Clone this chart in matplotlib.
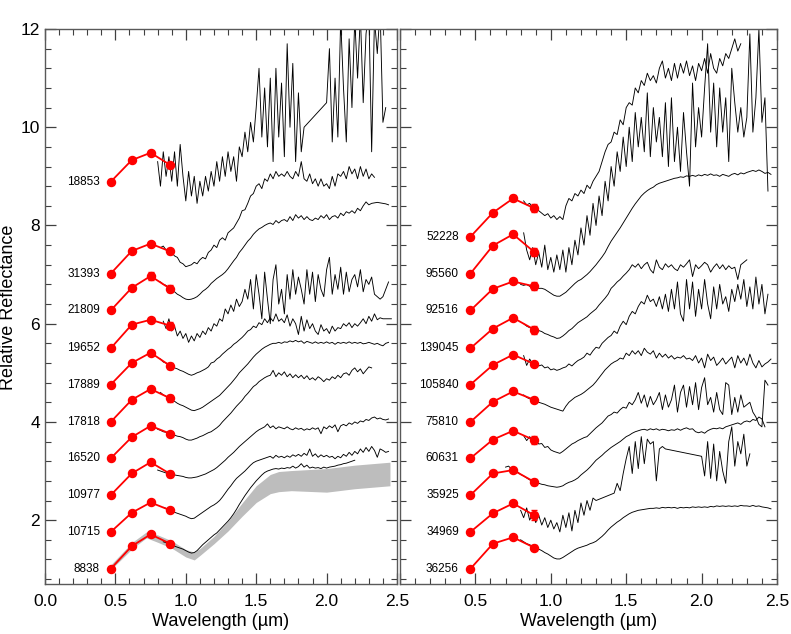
import numpy as np
import matplotlib
matplotlib.use('Agg')
import matplotlib.pyplot as plt
from matplotlib.ticker import MultipleLocator, FuncFormatter

plt.rcParams['font.family'] = ['Liberation Sans', 'DejaVu Sans']

# spectra are sampled every 0.02 um from their own start wavelength
STEP = 0.02
PHOT_WAVE = [0.467, 0.616, 0.75, 0.89]

# ---------------- left panel ----------------
LEFT_NAMES = ['18853', '31393', '21809', '19652', '17889',
              '17818', '16520', '10977', '10715', '8838']
LEFT_PHOT = [[8.89, 9.33, 9.48, 9.23],
             [7.02, 7.48, 7.63, 7.47],
             [6.27, 6.73, 6.97, 6.71],
             [5.50, 5.98, 6.08, 5.96],
             [4.76, 5.20, 5.41, 5.14],
             [4.00, 4.45, 4.67, 4.48],
             [3.26, 3.69, 3.92, 3.76],
             [2.51, 2.95, 3.18, 2.94],
             [1.76, 2.15, 2.36, 2.20],
             [1.01, 1.47, 1.71, 1.52]]
LEFT_ERR = [[0.02, 0.02, 0.03, 0.04],
            [0.02, 0.02, 0.03, 0.06],
            [0.02, 0.02, 0.08, 0.07],
            [0.02, 0.02, 0.03, 0.07],
            [0.02, 0.02, 0.04, 0.06],
            [0.02, 0.02, 0.03, 0.07],
            [0.02, 0.02, 0.03, 0.04],
            [0.02, 0.02, 0.03, 0.06],
            [0.02, 0.02, 0.03, 0.04],
            [0.02, 0.02, 0.03, 0.06]]
LEFT_START = [0.80, 0.82, 0.82, 0.84, 0.82, 0.82, 0.80, 0.80, 0.84, 0.84]

SPEC_18853 = ([9.3, 8.8, 9.5, 9.0, 9.4, 8.9, 9.5, 8.8, 9.65, 9.0,
               8.5, 9.1, 8.6, 9.0, 8.45, 8.9, 8.6, 9.0, 8.7, 9.1,
               8.8, 9.3, 8.9, 9.4, 9.0, 9.5, 9.1, 9.4, 8.9, 9.6,
               9.4, 9.9, 9.5, 10.1, 9.7, 10.4, 11.2, 9.8, 10.8, 9.6,
               11.0, 9.3, 11.2, 9.8, 10.9, 9.4, 11.7, 10.0, 11.3, 9.3,
               10.7, 9.5, 10.0] + [None] * 7 +
              [10.5, 11.6, 9.7, 11.0, 9.8, 12.2, 10.8, 9.7, 11.8, 10.4,
               12.2, 11.0, 12.3, 10.5, 11.9, 12.4, 9.5, 12.2, 11.5, 12.4,
               10.1, 10.4])
SPEC_31393 = [7.55, 7.58, 7.5, 7.52, 7.45, 7.38, 7.35, 7.25, 7.22,
              7.16, 7.18, 7.2, 7.25, 7.22, 7.3, 7.35, 7.32, 7.45, 7.5,
              7.6, 7.55, 7.7, 7.75, 7.7, 7.85, 7.9, 7.95, 8.05, 8.15,
              8.3, 8.32, 8.45, 8.6, 8.65, 8.8, 8.85, 8.75, 8.95, 8.9,
              9.05, 8.95, 9.1, 9.0, 9.05, 9.0, 9.1, 9.0, 8.95, 9.1,
              9.0, 9.3, 8.95, 8.9, 9.05, 8.85, 8.95, 8.8, 8.95, 8.8,
              8.85, 8.75, 9.0, 8.8, 9.05, 9.0, 9.1, 8.95, 9.2, 9.05,
              9.15, 8.95, 9.2, 9.0, 9.15, 8.95, 9.05, 8.98]
SPEC_21809 = [6.85, 6.8, 6.78, 6.72, 6.68, 6.65, 6.6, 6.57, 6.53,
              6.5, 6.49, 6.5, 6.52, 6.55, 6.6, 6.66, 6.7, 6.75, 6.82,
              6.87, 6.92, 6.96, 7.0, 7.05, 7.12, 7.2, 7.28, 7.35, 7.45,
              7.52, 7.6, 7.68, 7.74, 7.82, 7.88, 7.93, 7.96, 8.0, 8.03,
              8.05, 8.02, 8.1, 8.05, 8.1, 8.12, 8.08, 8.18, 8.1, 8.22,
              8.15, 8.2, 8.12, 8.18, 8.12, 8.1, 8.15, 8.12, 8.2, 8.15,
              8.22, 8.12, 8.18, 8.2, 8.15, 8.25, 8.2, 8.28, 8.25, 8.3,
              8.25, 8.35, 8.3, 8.4, 8.48, 8.42, 8.45, 8.46, 8.47, 8.46,
              8.45, 8.44, 8.42]
SPEC_19652 = [6.05, 5.9, 6.1, 5.85, 5.95, 5.75, 5.85, 5.7,
              5.8, 5.62, 5.75, 5.65, 5.8, 5.72, 5.85, 5.78, 5.92, 5.85,
              6.0, 5.95, 6.1, 6.05, 6.3, 6.2, 6.38, 6.25, 6.5, 6.35,
              6.45, 6.7, 6.5, 6.9, 6.3, 7.0, 6.6, 6.1, 7.05, 6.5,
              6.0, 6.9, 7.2, 6.4, 6.7, 6.2, 7.0, 6.5, 7.1, 6.6,
              6.95, 6.7, 6.4, 7.1, 6.6, 7.05, 6.45, 7.0, 6.7, 6.55,
              7.1, 7.35, 6.6, 7.0, 6.7, 7.15, 6.6, 7.05, 6.65, 6.9,
              7.0, 6.75, 7.1, 6.65, 6.9, 6.8, 6.95, 6.6, 6.55, 6.5,
              6.55, 6.7, 6.85]
SPEC_17889 = [5.28, 5.22, 5.2, 5.15, 5.12, 5.1, 5.08, 5.05, 5.03,
              5.0, 4.97, 4.95, 4.97, 5.0, 5.02, 5.05, 5.08, 5.12, 5.2,
              5.22, 5.28, 5.32, 5.38, 5.43, 5.48, 5.52, 5.58, 5.62, 5.67,
              5.72, 5.78, 5.85, 5.88, 5.95, 5.92, 6.02, 5.98, 6.1, 6.02,
              6.12, 6.05, 6.2, 6.05, 6.1, 6.02, 6.18, 5.95, 6.1, 6.0,
              5.78, 6.15, 5.85, 6.08, 5.9, 6.0, 5.85, 5.78, 5.98, 5.85,
              5.9, 5.8, 5.95, 5.85, 5.92, 5.9, 6.0, 5.95, 6.02, 5.92,
              6.0, 5.95, 6.02, 6.1, 6.0, 6.15, 6.05, 6.2, 6.08, 6.12,
              6.1, 6.1, 6.1, 6.1]
SPEC_17818 = [4.6, 4.55, 4.52, 4.48, 4.45, 4.42, 4.38, 4.35, 4.33,
              4.3, 4.27, 4.24, 4.23, 4.25, 4.27, 4.3, 4.34, 4.38, 4.42,
              4.46, 4.5, 4.54, 4.6, 4.66, 4.72, 4.78, 4.85, 4.92, 5.0,
              5.06, 5.12, 5.18, 5.25, 5.32, 5.38, 5.43, 5.48, 5.52, 5.55,
              5.58, 5.6, 5.6, 5.62, 5.6, 5.63, 5.62, 5.65, 5.63, 5.66,
              5.63, 5.65, 5.6, 5.64, 5.62, 5.6, 5.63, 5.6, 5.62, 5.6,
              5.63, 5.6, 5.62, 5.58, 5.62, 5.6, 5.62, 5.6, 5.63, 5.6,
              5.62, 5.6, 5.62, 5.59, 5.6, 5.62, 5.6, 5.58, 5.6, 5.57,
              5.55, 5.6, 5.62]
SPEC_16520 = [3.85, 3.83, 3.8, 3.79, 3.77, 3.75, 3.73, 3.71, 3.7, 3.68,
              3.65, 3.63, 3.63, 3.65, 3.67, 3.7, 3.72, 3.75, 3.78, 3.8,
              3.84, 3.88, 3.93, 4.0, 4.06, 4.12, 4.18, 4.25, 4.32, 4.38,
              4.44, 4.52, 4.58, 4.65, 4.72, 4.76, 4.82, 4.86, 4.9, 4.93,
              4.95, 5.05, 4.92, 5.0, 4.95, 5.02, 4.92, 4.98, 4.9, 4.96,
              4.9, 4.95, 4.88, 4.94, 4.86, 4.9, 4.85, 4.92, 4.88, 4.82,
              4.88, 4.85, 4.92, 4.88, 4.95, 4.9, 4.98, 5.0, 4.95, 5.05,
              5.1, 5.02, 5.08, 4.98, 5.05, 5.12, 5.1]
SPEC_10977 = [3.02, 3.0, 2.98, 2.96, 2.95, 2.93, 2.92, 2.91, 2.9, 2.89,
              2.87, 2.86, 2.86, 2.87, 2.88, 2.9, 2.92, 2.94, 2.97, 3.0,
              3.03, 3.07, 3.12, 3.17, 3.22, 3.28, 3.33, 3.38, 3.44, 3.5,
              3.55, 3.6, 3.65, 3.7, 3.75, 3.8, 3.84, 3.87, 3.9, 3.96,
              3.88, 3.92, 3.86, 3.9, 3.88, 3.86, 3.9, 3.86, 3.84, 3.88,
              3.85, 3.87, 3.83, 3.86, 3.84, 3.88, 3.85, 3.88, 3.76, 3.9,
              3.86, 3.92, 3.88, 3.94, 3.8, 3.92, 3.95, 3.92, 3.98, 3.95,
              4.0, 3.97, 4.02, 4.0, 4.05, 4.03, 4.08, 4.1, 4.06, 4.08,
              4.05, 4.04, 4.06]
SPEC_10715 = [2.26, 2.24, 2.2, 2.18, 2.16, 2.14, 2.12, 2.1,
              2.08, 2.05, 2.03, 2.04, 2.08, 2.12, 2.16, 2.2, 2.24, 2.28,
              2.31, 2.35, 2.4, 2.47, 2.55, 2.63, 2.7, 2.78, 2.85, 2.9,
              2.95, 3.0, 3.06, 3.12, 3.17, 3.2, 3.22, 3.24, 3.26, 3.28,
              3.3, 3.26, 3.32, 3.28, 3.3, 3.27, 3.31, 3.28, 3.33, 3.3,
              3.34, 3.3, 3.36, 3.32, 3.45, 3.3, 3.35, 3.28, 3.33, 3.29,
              3.32, 3.28, 3.3, 3.25, 3.3, 3.27, 3.34, 3.3, 3.38, 3.32,
              3.4, 3.35, 3.45, 3.38, 3.48, 3.4, 3.5, 3.42, 3.28, 3.45,
              3.42, 3.38, 3.4]
SPEC_8838 = [1.56, 1.54, 1.52, 1.5, 1.47, 1.45, 1.43, 1.41,
             1.38, 1.35, 1.33, 1.34, 1.38, 1.44, 1.5, 1.55, 1.6, 1.65,
             1.7, 1.74, 1.8, 1.86, 1.92, 1.98, 2.05, 2.13, 2.22, 2.32,
             2.41, 2.5, 2.58, 2.66, 2.73, 2.8, 2.86, 2.92, 2.97, 3.0,
             3.02, 3.04, 3.05, 3.04, 3.06, 3.05, 3.07, 3.06, 3.1, 3.06,
             3.09, 3.15, 3.08, 3.12, 3.06, 3.08, 3.06, 3.07, 3.05, 3.08,
             3.06, 3.08, 3.09, 3.1, 3.12, 3.13, 3.15, 3.16, 3.18, 3.2,
             3.22]
LEFT_SPEC = [SPEC_18853, SPEC_31393, SPEC_21809, SPEC_19652, SPEC_17889,
             SPEC_17818, SPEC_16520, SPEC_10977, SPEC_10715, SPEC_8838]

# grey range behind 8838
BAND_WAVE = [0.47, 0.62, 0.72, 0.80, 0.90, 1.00, 1.06, 1.10, 1.20, 1.30,
             1.40, 1.50, 1.60, 1.66, 1.75, 2.00, 2.20, 2.45]
BAND_LO = [1.00, 1.42, 1.64, 1.55, 1.43, 1.25, 1.19, 1.28, 1.52, 1.78,
           2.08, 2.36, 2.54, 2.58, 2.60, 2.57, 2.64, 2.70]
BAND_HI = [1.10, 1.55, 1.76, 1.70, 1.58, 1.40, 1.35, 1.42, 1.67, 1.98,
           2.35, 2.70, 2.93, 2.99, 3.01, 3.05, 3.12, 3.18]

# ---------------- right panel ----------------
RIGHT_NAMES = ['52228', '95560', '92516', '139045', '105840',
               '75810', '60631', '35925', '34969', '36256']
RIGHT_PHOT = [[7.77, 8.26, 8.55, 8.35],
              [7.02, 7.59, 7.82, 7.46],
              [6.27, 6.71, 6.86, 6.76],
              [5.50, 5.90, 6.12, 5.88],
              [4.76, 5.16, 5.37, 5.18],
              [4.00, 4.41, 4.62, 4.45],
              [3.26, 3.64, 3.82, 3.63],
              [2.51, 2.95, 3.02, 2.78],
              [1.76, 2.14, 2.34, 2.10],
              [1.01, 1.52, 1.65, 1.44]]
RIGHT_ERR = [[0.02, 0.02, 0.06, 0.08],
             [0.02, 0.02, 0.06, 0.08],
             [0.02, 0.02, 0.03, 0.08],
             [0.02, 0.02, 0.03, 0.08],
             [0.02, 0.02, 0.03, 0.05],
             [0.02, 0.02, 0.03, 0.05],
             [0.02, 0.02, 0.03, 0.08],
             [0.02, 0.02, 0.03, 0.06],
             [0.02, 0.02, 0.03, 0.10],
             [0.02, 0.02, 0.03, 0.05]]
RIGHT_START = [0.82, 0.82, 0.80, 0.82, 0.82, 0.82, 0.82, 0.70, 0.80, 0.80]

SPEC_52228 = [8.5, 8.42, 8.45, 8.35, 8.38, 8.3, 8.25, 8.2, 8.24,
              8.15, 8.2, 8.12, 8.18, 8.12, 8.4, 8.55, 8.5, 8.65, 8.6,
              8.72, 8.65, 8.82, 8.75, 8.9, 9.0, 9.1, 9.3, 9.5, 9.65,
              9.7, 9.9, 9.85, 10.15, 10.05, 10.4, 10.5, 10.45, 10.8, 10.7,
              10.95, 10.85, 11.1, 10.95, 11.05, 10.9, 11.2, 11.35, 11.0, 11.2,
              10.95, 11.3, 11.0, 11.3, 11.1, 11.35, 11.05, 11.25, 10.95, 11.3,
              11.15, 11.4, 11.1, 11.5, 11.2, 11.1, 11.4, 11.25, 11.5, 11.4,
              11.6, 11.8, 11.55, 11.7]
SPEC_95560 = [7.85, 7.5, 7.3, 7.55, 7.2, 7.45, 7.15, 7.6, 7.1,
              7.35, 7.05, 7.4, 7.1, 7.5, 7.05, 7.55, 7.2, 7.7, 7.4,
              7.95, 7.6, 8.2, 7.8, 8.45, 8.0, 8.6, 8.2, 8.9, 8.5,
              9.2, 8.8, 9.5, 9.1, 9.8, 9.2, 10.0, 9.3, 10.3, 9.6,
              10.2, 9.5, 10.7, 9.4, 10.4, 9.7, 10.2, 9.4, 10.5, 9.2,
              10.6, 9.3, 10.0, 9.1, 10.3, 9.5, 8.8, 10.9, 9.6, 10.4,
              9.8, 10.8, 11.7, 9.9, 10.9, 9.6, 10.8, 9.9, 10.6, 9.3,
              11.2, 10.5, 9.9, 10.4, 9.8, 10.2, 11.9, 9.9, 10.6, 12.0,
              10.1, 10.6, 8.7]
SPEC_92516 = [6.8, 6.78, 6.8, 6.76, 6.76, 6.74, 6.72, 6.72, 6.7, 6.66,
              6.62, 6.58, 6.56, 6.56, 6.6, 6.64, 6.7, 6.76, 6.82, 6.87,
              6.9, 6.95, 7.0, 7.06, 7.13, 7.2, 7.28, 7.36, 7.45, 7.57,
              7.68, 7.77, 7.86, 7.95, 8.05, 8.15, 8.25, 8.35, 8.44, 8.52,
              8.6, 8.66, 8.71, 8.75, 8.78, 8.83, 8.86, 8.88, 8.9, 8.92,
              8.94, 8.96, 8.97, 8.99, 8.98, 9.01, 9.0, 9.02, 9.0, 9.03,
              9.01, 9.04, 9.02, 9.05, 9.02, 9.03, 9.0, 9.04, 9.02, 9.0,
              9.04, 9.06, 9.03, 9.07, 9.05, 9.08, 9.1, 9.12, 9.1, 9.13,
              9.1, 9.06, 9.08, 9.04]
SPEC_139045 = [6.0, 5.95, 5.92, 5.9, 5.88, 5.86, 5.84, 5.8, 5.78,
               5.75, 5.73, 5.7, 5.71, 5.75, 5.8, 5.86, 5.9, 5.96, 6.02,
               6.06, 6.1, 6.14, 6.2, 6.25, 6.3, 6.38, 6.45, 6.52, 6.6,
               6.72, 6.78, 6.85, 6.9, 6.97, 7.03, 7.1, 7.2, 7.15, 7.22,
               7.12, 7.2, 7.25, 7.1, 7.03, 7.3, 7.15, 7.1, 7.22, 7.15,
               7.2, 7.12, 7.08, 7.2, 7.15, 7.22, 7.3, 6.96, 7.2, 7.12,
               7.18, 7.25, 7.2, 7.05, 7.15, 7.22, 7.12, 7.2, 7.1, 7.18,
               7.12, 7.15, 6.9, 7.2, 7.25, 7.3]
SPEC_105840 = [5.35, 5.15, 5.28, 5.18, 5.2, 5.14, 5.16, 5.1, 5.12,
               5.06, 5.08, 5.05, 5.07, 5.1, 5.12, 5.18, 5.14, 5.2, 5.25,
               5.28, 5.32, 5.4, 5.36, 5.45, 5.52, 5.5, 5.6, 5.66, 5.72,
               5.76, 5.85, 5.8, 5.95, 6.05, 5.98, 6.15, 6.25, 6.2, 6.35,
               6.45, 6.4, 6.58, 6.45, 6.5, 6.35, 6.55, 6.3, 6.6, 6.25,
               6.7, 6.3, 6.85, 6.2, 6.05, 6.9, 6.3, 6.85, 6.15, 6.7,
               6.3, 6.9, 6.4, 6.1, 6.75, 6.3, 6.8, 6.4, 6.55, 6.25,
               6.7, 6.45, 6.8, 6.5, 6.9, 6.35, 6.75, 6.3, 6.95, 6.4,
               6.8, 6.2, 6.6]
SPEC_75810 = [4.55, 4.5, 4.47, 4.45, 4.43, 4.4, 4.38, 4.36, 4.33,
              4.3, 4.28, 4.26, 4.24, 4.22, 4.32, 4.4, 4.45, 4.5, 4.53,
              4.56, 4.6, 4.65, 4.7, 4.75, 4.82, 4.9, 4.98, 5.06, 5.12,
              5.18, 5.22, 5.25, 5.3, 5.28, 5.4, 5.35, 5.45, 5.38, 5.45,
              5.35, 5.5, 5.42, 5.38, 5.45, 5.3, 5.4, 5.32, 5.38, 5.3,
              5.35, 5.28, 5.32, 5.3, 5.35, 5.28, 5.3, 5.25, 5.35, 5.2,
              5.3, 5.1, 5.38, 5.25, 5.32, 5.15, 5.22, 5.3, 5.18, 5.25,
              5.32, 5.1, 5.35, 5.2, 5.3, 5.15, 5.38, 5.2, 5.1, 5.25,
              5.12, 5.18, 5.22, 5.28]
SPEC_60631 = [3.72, 3.62, 3.7, 3.6, 3.64, 3.55, 3.56, 3.48, 3.5,
              3.43, 3.4, 3.38, 3.36, 3.4, 3.45, 3.5, 3.55, 3.58, 3.62,
              3.65, 3.68, 3.7, 3.76, 3.82, 3.88, 3.93, 3.98, 4.05, 4.12,
              4.15, 4.2, 4.18, 4.25, 4.3, 4.28, 4.4, 4.35, 4.45, 4.6,
              4.38, 4.55, 4.3, 4.52, 4.35, 4.45, 4.6, 4.25, 4.55, 4.3,
              4.45, 4.75, 4.2, 4.6, 4.75, 4.3, 4.72, 4.35, 4.8, 4.25,
              4.7, 4.9, 4.35, 4.5, 4.2, 4.6, 4.25, 4.15, 4.8, 4.75,
              4.15, 4.5, 4.2, 4.55, 4.3, 4.35, 4.4, 4.2, 4.1, 3.95,
              3.9, 4.85, 4.75]
SPEC_35925 = [3.08, 3.1, 3.04, 3.0, 2.98, 2.93, 2.9, 2.86, 2.82, 2.8,
              2.77, 2.75, 2.73, 2.72, 2.7, 2.69, 2.68, 2.67, 2.68, 2.7,
              2.74, 2.77, 2.79, 2.82, 2.86, 2.92, 2.97, 3.02, 3.08, 3.15,
              3.22, 3.27, 3.32, 3.38, 3.43, 3.48, 3.52, 3.56, 3.6, 3.65,
              3.7, 3.73, 3.77, 3.8, 3.82, 3.84, 3.85, 3.83, 3.86, 3.84,
              3.86, 3.83, 3.85, 3.84, 3.82, 3.84, 3.83, 3.86, 3.83, 3.86,
              3.88, 3.85, 3.86, 3.8, 3.78, 3.8, 3.77, 3.82, 3.85, 3.87,
              3.86, 3.88, 3.86, 3.9, 3.92, 3.94, 3.96, 3.98, 3.95, 4.0,
              4.02, 4.0, 4.05, 4.03, 4.1, 4.06, 3.9]
SPEC_34969 = ([2.2, 2.05, 2.25, 2.0, 2.15, 1.95, 2.1, 1.9, 2.05, 1.85,
               2.0, 1.82, 1.95, 1.76, 2.1, 1.85, 2.15, 1.78, 2.2, 1.95,
               2.35, 2.1, 2.4, 2.2, 2.45, 2.4] + [None] * 5 +
              [2.55, 2.75, 2.6, 2.95, 3.25, 3.5, 2.95, 3.6, 3.05,
               3.7, 3.15, 3.65, 3.55, 3.6, 2.8, 3.45, 3.5, 3.45] + [None] * 11 +
              [3.3, 2.9, 3.6, 2.85, 3.55, 2.8, 3.4, 3.0, 2.75, 3.6,
               3.9, 3.1, 3.6, 3.35, 3.75, 3.1, 3.35])
SPEC_36256 = [1.6, 1.56, 1.52, 1.5, 1.46, 1.44, 1.41, 1.38, 1.34, 1.31,
              1.27, 1.23, 1.21, 1.21, 1.24, 1.28, 1.32, 1.36, 1.4, 1.43,
              1.45, 1.47, 1.49, 1.52, 1.54, 1.57, 1.62, 1.67, 1.73, 1.8,
              1.86, 1.91, 1.96, 2.0, 2.05, 2.09, 2.13, 2.16, 2.18, 2.2,
              2.21, 2.22, 2.23, 2.24, 2.24, 2.25, 2.24, 2.26, 2.25, 2.26,
              2.25, 2.26, 2.24, 2.26, 2.25, 2.26, 2.25, 2.27, 2.26, 2.27,
              2.26, 2.27, 2.26, 2.28, 2.27, 2.29, 2.28, 2.29, 2.28, 2.29,
              2.28, 2.29, 2.28, 2.3, 2.29, 2.29, 2.28, 2.3, 2.28, 2.29,
              2.27, 2.26, 2.25, 2.23]
RIGHT_SPEC = [SPEC_52228, SPEC_95560, SPEC_92516, SPEC_139045, SPEC_105840,
              SPEC_75810, SPEC_60631, SPEC_35925, SPEC_34969, SPEC_36256]


def spectrum(start, values):
    ''' wavelengths for a spectrum; missing points are dropped so gaps get bridged '''
    v = np.array([np.nan if x is None else x for x in values], dtype=float)
    w = start + STEP * np.arange(len(v))
    ok = ~np.isnan(v)
    return w[ok], v[ok]


def draw_panel(ax, names, phot, err, starts, spectra):
    for name, p, e, s, sp in zip(names, phot, err, starts, spectra):
        w, r = spectrum(s, sp)
        ax.plot(w, r, color='black', lw=0.65, zorder=2)
        ax.errorbar(PHOT_WAVE, p, yerr=e, fmt='none', ecolor='red',
                    elinewidth=1.0, capsize=2, zorder=3)
        ax.plot(PHOT_WAVE, p, color='red', lw=1.3, marker='o', ms=5.8,
                mec='red', mfc='red', zorder=4)
        ax.text(0.39, p[0], name, ha='right', va='center', fontsize=8.5)


def style_axes(ax):
    ax.set_xlim(0, 2.5)
    ax.set_ylim(0.7, 12)
    ax.xaxis.set_major_locator(MultipleLocator(0.5))
    ax.xaxis.set_minor_locator(MultipleLocator(0.1))
    ax.yaxis.set_major_locator(MultipleLocator(2))
    ax.yaxis.set_minor_locator(MultipleLocator(0.4))
    ax.tick_params(which='both', direction='in', top=True, right=True,
                   color='0.25', labelsize=12.5)
    ax.tick_params(which='major', length=8, width=0.9)
    ax.tick_params(which='minor', length=4, width=0.8)
    ax.tick_params(axis='x', pad=7)
    for sp in ax.spines.values():
        sp.set_color('0.35')
        sp.set_linewidth(1.0)
    ax.set_xlabel('Wavelength (\u00b5m)', fontsize=13, labelpad=3)


def main():
    fig = plt.figure(figsize=(7.91, 6.34), dpi=100)
    ax1 = fig.add_axes([45 / 791, 50 / 634, 352 / 791, 555 / 634])
    ax2 = fig.add_axes([400 / 791, 50 / 634, 377 / 791, 555 / 634])

    ax1.fill_between(BAND_WAVE, BAND_LO, BAND_HI, color='#bdbdbd', lw=0, zorder=1)
    draw_panel(ax1, LEFT_NAMES, LEFT_PHOT, LEFT_ERR, LEFT_START, LEFT_SPEC)
    draw_panel(ax2, RIGHT_NAMES, RIGHT_PHOT, RIGHT_ERR, RIGHT_START, RIGHT_SPEC)

    for ax in (ax1, ax2):
        style_axes(ax)
    ax1.xaxis.set_major_formatter(FuncFormatter(lambda v, p: '%.1f' % v))
    ax1.yaxis.set_major_formatter(FuncFormatter(lambda v, p: '%d' % round(v)))
    ax2.xaxis.set_major_formatter(FuncFormatter(lambda v, p: '' if v < 0.01 else '%.1f' % v))
    ax2.tick_params(labelleft=False)

    # kept just inside the left edge so the whole label shows
    fig.text(0.0105, 0.516, 'Relative Reflectance', rotation=90,
             ha='center', va='center', fontsize=13)

    fig.savefig('out.png', dpi=100)


if __name__ == '__main__':
    main()
